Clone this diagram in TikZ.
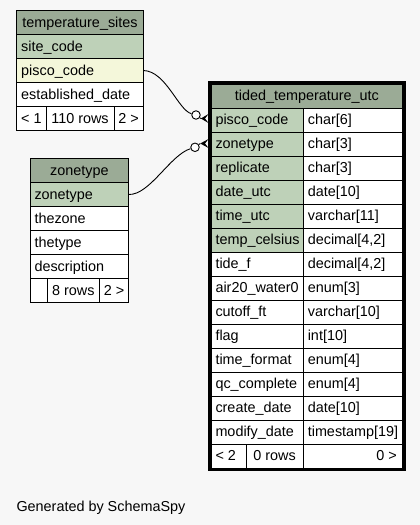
\documentclass[tikz,border=0pt]{standalone}
\usepackage{fontspec}
\setmainfont{Liberation Sans}
\definecolor{bgc}{HTML}{F7F7F7}
\definecolor{hdc}{HTML}{9BAB96}
\definecolor{pkc}{HTML}{BED1B8}
\definecolor{ixc}{HTML}{F4F7DA}
\tikzset{
  cell/.style={draw=black, line width=1pt, minimum height=24pt, inner sep=0pt, outer sep=0pt, anchor=north west},
  txt/.style={inner sep=0pt, outer sep=0pt, font=\fontsize{14.4}{16}\selectfont, text=black},
  link/.style={draw=black, line width=0.9pt},
  odot/.style={circle, draw=black, line width=0.9pt, fill=white, minimum size=8.5pt, inner sep=0pt}
}
% left-aligned cell: name, x, y, width, fill, text
\newcommand\cellL[6]{%
  \node[cell, fill=#5, minimum width=#4pt] (#1) at (#2,#3) {};
  \node[txt, anchor=base west] (#1-t) at ([xshift=4.5pt,yshift=-4.5pt]#1.west) {#6};}
% centred cell
\newcommand\cellC[6]{%
  \node[cell, fill=#5, minimum width=#4pt] (#1) at (#2,#3) {};
  \node[txt, anchor=base] (#1-t) at ([yshift=-4.5pt]#1.center) {#6};}
% right-aligned cell
\newcommand\cellR[6]{%
  \node[cell, fill=#5, minimum width=#4pt] (#1) at (#2,#3) {};
  \node[txt, anchor=base east] (#1-t) at ([xshift=-6pt,yshift=-4.5pt]#1.east) {#6};}
% main table row: name, y, fill, col text, type text
\newcommand\mrow[5]{%
  \cellL{#1}{211}{#2}{92.3}{#3}{#4}
  \cellL{#1-ty}{303.3}{#2}{99.4}{white}{#5}}
\begin{document}
\begin{tikzpicture}[x=1pt,y=-1pt]
\useasboundingbox[fill=bgc] (0,0) rectangle (420,525);

% temperature_sites
\cellC{ts-head}{16.7}{10.5}{126.6}{hdc}{temperature\_sites}
\cellL{ts-site}{16.7}{34.5}{126.6}{pkc}{site\_code}
\cellL{ts-pisco}{16.7}{58.5}{126.6}{ixc}{pisco\_code}
\cellL{ts-est}{16.7}{82.5}{126.6}{white}{established\_date}
\cellC{ts-f1}{16.7}{106.5}{29.3}{white}{< 1}
\cellC{ts-f2}{46}{106.5}{68}{white}{110 rows}
\cellC{ts-f3}{114}{106.5}{29.3}{white}{2 >}

% zonetype
\cellC{zt-head}{30}{158.5}{98.7}{hdc}{zonetype}
\cellL{zt-zone}{30}{182.5}{98.7}{pkc}{zonetype}
\cellL{zt-thezone}{30}{206.5}{98.7}{white}{thezone}
\cellL{zt-thetype}{30}{230.5}{98.7}{white}{thetype}
\cellL{zt-desc}{30}{254.5}{98.7}{white}{description}
\cellC{zt-f1}{30}{278.5}{17.3}{white}{}
\cellC{zt-f2}{47.3}{278.5}{52}{white}{8 rows}
\cellC{zt-f3}{99.3}{278.5}{29.4}{white}{2 >}

% tided_temperature_utc
\cellC{tt-head}{211}{84}{191.7}{hdc}{tided\_temperature\_utc}
\mrow{tt-pisco}{108}{pkc}{pisco\_code}{char[6]}
\mrow{tt-zone}{132}{pkc}{zonetype}{char[3]}
\mrow{tt-rep}{156}{pkc}{replicate}{char[3]}
\mrow{tt-date}{180}{pkc}{date\_utc}{date[10]}
\mrow{tt-time}{204}{pkc}{time\_utc}{varchar[11]}
\mrow{tt-temp}{228}{pkc}{temp\_celsius}{decimal[4,2]}
\mrow{tt-tide}{252}{white}{tide\_f}{decimal[4,2]}
\mrow{tt-air}{276}{white}{air20\_water0}{enum[3]}
\mrow{tt-cut}{300}{white}{cutoff\_ft}{varchar[10]}
\mrow{tt-flag}{324}{white}{flag}{int[10]}
\mrow{tt-tf}{348}{white}{time\_format}{enum[4]}
\mrow{tt-qc}{372}{white}{qc\_complete}{enum[4]}
\mrow{tt-cd}{396}{white}{create\_date}{date[10]}
\mrow{tt-md}{420}{white}{modify\_date}{timestamp[19]}
\cellL{tt-f1}{211}{444}{35}{white}{< 2}
\cellC{tt-f2}{246}{444}{57.3}{white}{0 rows}
\cellR{tt-f3}{303.3}{444}{99.4}{white}{0 >}
\draw[line width=2.5pt] (209.3,82.3) rectangle (404.4,469.7);

% connectors
\node[odot] (c1) at (196,115) {};
\node[odot] (c2) at (195,147.3) {};
\coordinate (k1) at (200.8,118.5);
\coordinate (k2) at (200.3,143.5);
\draw[link] (ts-pisco.east) .. controls (166,71) and (178,110) .. (c1);
\draw[link] (zt-zone.east) .. controls (150,195) and (170,155) .. (c2);
\draw[link] (c1) -- (k1);
\draw[link] (c2) -- (k2);
\fill[black] (k1) -- ++(7.7,-4.5) -- ++(-3.5,4.5) -- ++(3.5,4.5) -- cycle;
\fill[black] (k2) -- ++(8.2,-4.5) -- ++(-3.5,4.5) -- ++(3.5,4.5) -- cycle;

\node[txt, anchor=base west] (gen) at (16.5,511) {Generated by SchemaSpy};
\end{tikzpicture}
\end{document}
